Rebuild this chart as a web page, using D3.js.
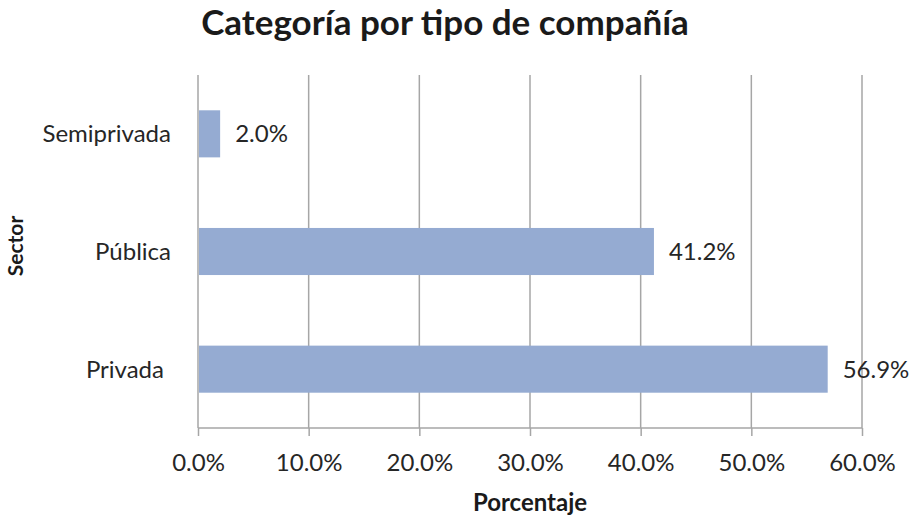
<!DOCTYPE html>
<html lang="es">

<head>
  <meta charset="UTF-8">
  <title>Categoría por tipo de compañía</title>
  <script src="https://d3js.org/d3.v7.min.js"></script>
  <style>
    body {
      margin: 0;
      background: #fff;
      font-family: "Lato", "Open Sans", sans-serif;
    }

    .grid line {
      stroke: #a6a6a6;
      stroke-width: 1.5px;
    }

    .tick text {
      font-size: 24px;
      fill: #262626;
    }
  </style>
</head>

<body>
  <div id="chart"></div>
</body>
<script>
  // data
  var categories = ["Semiprivada", "Pública", "Privada"];
  var values = [2.0, 41.2, 56.9];
  var xTicks = [0, 10, 20, 30, 40, 50, 60];

  var W = 912, H = 516;
  var margin = { top: 75, right: 50, bottom: 88, left: 198 },
    width = W - margin.left - margin.right,
    height = H - margin.top - margin.bottom;

  var svg = d3.select("#chart").append("svg")
    .attr("width", W)
    .attr("height", H);

  var g = svg.append("g")
    .attr("transform", "translate(" + margin.left + "," + margin.top + ")");

  var x = d3.scaleLinear().domain([0, 60]).range([0, width]);
  var y = d3.scaleBand().domain(categories).range([0, height])
    .paddingInner(0.6).paddingOuter(0.3);

  // vertical gridlines
  g.append("g")
    .attr("class", "grid")
    .selectAll("line")
    .data(xTicks)
    .enter().append("line")
    .attr("x1", function (d) { return x(d); })
    .attr("x2", function (d) { return x(d); })
    .attr("y1", 0)
    .attr("y2", height);

  // bottom axis
  var xAxis = g.append("g")
    .attr("transform", "translate(0," + height + ")")
    .call(d3.axisBottom(x).tickValues(xTicks)
      .tickSize(8).tickPadding(18)
      .tickFormat(function (d) { return d3.format(".1f")(d) + "%"; }));
  xAxis.select(".domain").attr("stroke", "#a6a6a6").attr("stroke-width", 1.5)
    .attr("d", "M0,0H" + width);
  xAxis.selectAll(".tick line").attr("stroke", "#a6a6a6").attr("stroke-width", 1.5);
  xAxis.selectAll(".tick text").attr("font-family", "Lato, sans-serif");

  // left axis (labels only)
  var yAxis = g.append("g")
    .call(d3.axisLeft(y).tickSize(0).tickPadding(27));
  yAxis.select(".domain").remove();
  yAxis.selectAll(".tick text")
    .attr("font-family", "Lato, sans-serif")
    .attr("dy", "0.35em")
    .attr("dx", function (d) { return d === "Privada" ? -7 : 0; });

  // bars
  g.selectAll("rect.bar")
    .data(values)
    .enter().append("rect")
    .attr("class", "bar")
    .attr("x", x(0) + 1)
    .attr("y", function (d, i) { return y(categories[i]); })
    .attr("width", function (d) { return x(d) - x(0) - 1; })
    .attr("height", y.bandwidth())
    .attr("fill", "#95abd2");

  // value labels
  g.selectAll("text.val")
    .data(values)
    .enter().append("text")
    .attr("class", "val")
    .attr("x", function (d) { return x(d) + 15; })
    .attr("y", function (d, i) { return y(categories[i]) + y.bandwidth() / 2; })
    .attr("dy", "0.35em")
    .attr("font-size", 24)
    .attr("fill", "#262626")
    .text(function (d) { return d3.format(".1f")(d) + "%"; });

  // title
  svg.append("text")
    .attr("x", 445)
    .attr("y", 35)
    .attr("text-anchor", "middle")
    .attr("font-size", 35)
    .attr("font-weight", "bold")
    .attr("fill", "#1a1a1a")
    .text("Categoría por tipo de compañía");

  // axis titles
  svg.append("text")
    .attr("x", 530)
    .attr("y", 511)
    .attr("text-anchor", "middle")
    .attr("font-size", 24)
    .attr("font-weight", "bold")
    .attr("fill", "#1a1a1a")
    .text("Porcentaje");

  svg.append("text")
    .attr("transform", "translate(23,246) rotate(-90)")
    .attr("text-anchor", "middle")
    .attr("font-size", 21)
    .attr("font-weight", "bold")
    .attr("fill", "#1a1a1a")
    .text("Sector");
</script>

</html>
